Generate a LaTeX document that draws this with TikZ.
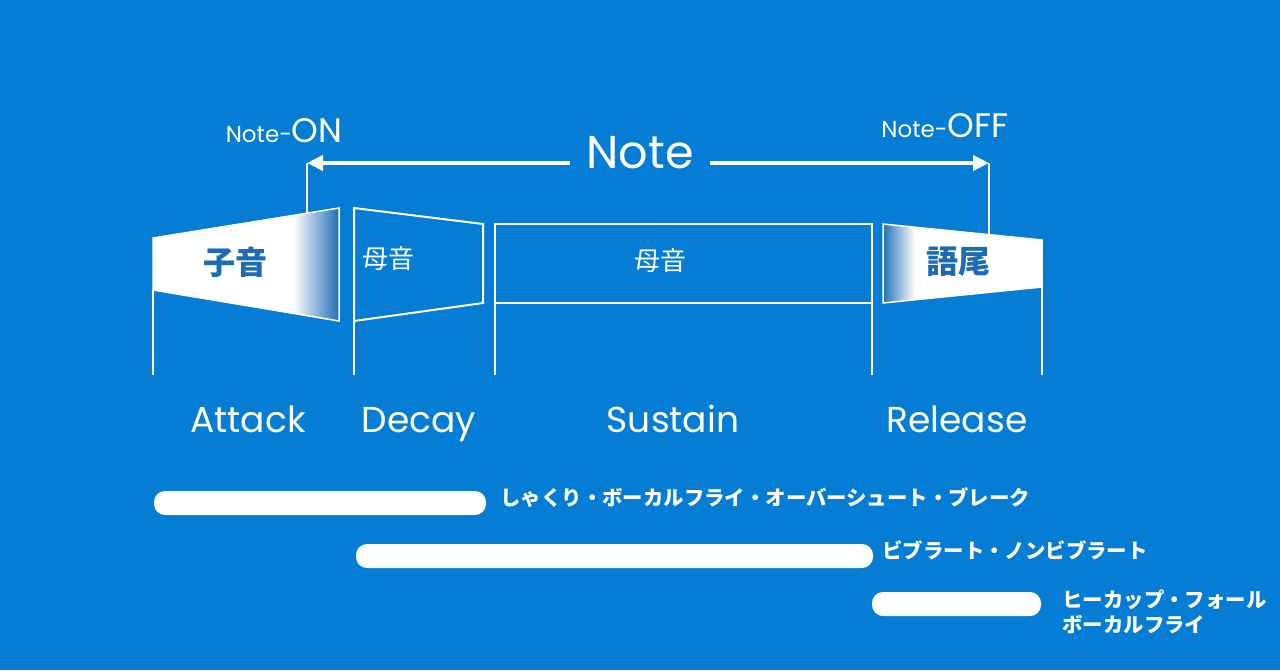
\documentclass[tikz,border=0pt]{standalone}
\usepackage{fontspec}
\setmainfont{Poppins}
\newfontfamily\jp{Noto Sans CJK JP}
\usetikzlibrary{arrows.meta}
\definecolor{bg}{HTML}{057DD5}
\definecolor{ink}{HTML}{1D6BB5}
\newcommand{\fs}[1]{\fontsize{#1}{1.2\dimexpr#1pt\relax}\selectfont}

\begin{document}
\begin{tikzpicture}[x=0.5pt,y=-0.5pt,
	wline/.style={white,line width=0.75pt},
	wbox/.style={white,line width=1pt},
	bar/.style={fill=white,rounded corners=5.5pt},
	stage/.style={white,anchor=base,inner sep=0pt,font=\fs{18}},
	kana/.style={white,anchor=west,inner sep=0pt,align=left,font=\jp\bfseries\fontsize{10.2}{12.5}\selectfont},
	notearrow/.style={white,line width=2pt,-{Triangle[length=8pt,width=7.5pt]}}]
	\fill[bg] (0,0) rectangle (1280,670);
	\useasboundingbox (0,0) rectangle (1280,670);
	\coordinate (on) at (307,163);
	\coordinate (off) at (989,163);
	\coordinate (ontop) at (307,213);
	\coordinate (offtop) at (989,235);
	\coordinate (base) at (0,375);
	\coordinate (a1) at (153,238); \coordinate (a2) at (339,208);
	\coordinate (a3) at (339,321); \coordinate (a4) at (153,290);
	\coordinate (d1) at (354,208); \coordinate (d2) at (483,224);
	\coordinate (d3) at (483,303); \coordinate (d4) at (354,321);
	\coordinate (s1) at (495,224); \coordinate (s3) at (872,303);
	\coordinate (r1) at (883,224); \coordinate (r2) at (1042,240);
	\coordinate (r3) at (1042,287); \coordinate (r4) at (883,303);
	
	\begin{scope}
		\clip (a1) -- (a2) -- (a3) -- (a4) -- cycle;
		\fill[white] (150,200) rectangle (293,330);
		\shade[left color=white,right color=ink] (293,200) rectangle (340,330);
	\end{scope}
	\draw[wline] (a1) -- (a2) -- (a3) -- (a4) -- cycle;
	\draw[wbox] (d1) -- (d2) -- (d3) -- (d4) -- cycle;
	\draw[wbox] (s1) rectangle (s3);
	\begin{scope}
		\clip (r1) -- (r2) -- (r3) -- (r4) -- cycle;
		\shade[left color=ink,right color=white] (882,220) rectangle (915,310);
		\fill[white] (915,220) rectangle (1045,310);
	\end{scope}
	\draw[wline] (r1) -- (r2) -- (r3) -- (r4) -- cycle;
	
	\node[ink,font=\jp\bfseries\fs{16}] (cons) at (235,262) {子音};
	\node[white,font=\jp\fs{13}] (vow1) at (388,259) {母音};
	\node[white,font=\jp\fs{13}] (vow2) at (660,261) {母音};
	\node[ink,font=\jp\bfseries\fs{16}] (tail) at (958,262) {語尾};
	
	\node[white,inner sep=0pt,minimum width=69.5pt,font=\fs{23}] (note) at (640,153) {Note};
	\draw[notearrow] (note.west |- on) -- (on);
	\draw[notearrow] (note.east |- on) -- (off);
	\node[white,anchor=base east,inner sep=0pt] (noteon) at (343,142) {\fs{11.5}Note-\fs{17}ON};
	\node[white,anchor=base west,inner sep=0pt] (noteoff) at (881,137) {\fs{11.5}Note-\fs{17}OFF};
	\draw[wline] (on) -- (ontop);
	\draw[wline] (off) -- (offtop);
	
	\draw[wline] (a4) -- (a4 |- base);
	\draw[wline] (d4) -- (d4 |- base);
	\draw[wline] (s1 |- s3) -- (s1 |- base);
	\draw[wline] (s3) -- (s3 |- base);
	\draw[wline] (r3) -- (r3 |- base);
	
	\node[stage] (attack) at (248,432) {Attack};
	\node[stage] (decay) at (419,432) {Decay};
	\node[stage] (sustain) at (673,432) {Sustain};
	\node[stage] (release) at (957,432) {Release};
	
	\fill[bar] (154,491) rectangle (486,515);
	\fill[bar] (356,544) rectangle (873,568);
	\fill[bar] (872,592) rectangle (1041,616);
	\node[kana] (onset) at (500,498) {しゃくり・ボーカルフライ・オーバーシュート・ブレーク};
	\node[kana] (vib) at (882,550) {ビブラート・ノンビブラート};
	\node[kana] (ending) at (1062,612) {ヒーカップ・フォール\\ボーカルフライ};
\end{tikzpicture}
\end{document}
